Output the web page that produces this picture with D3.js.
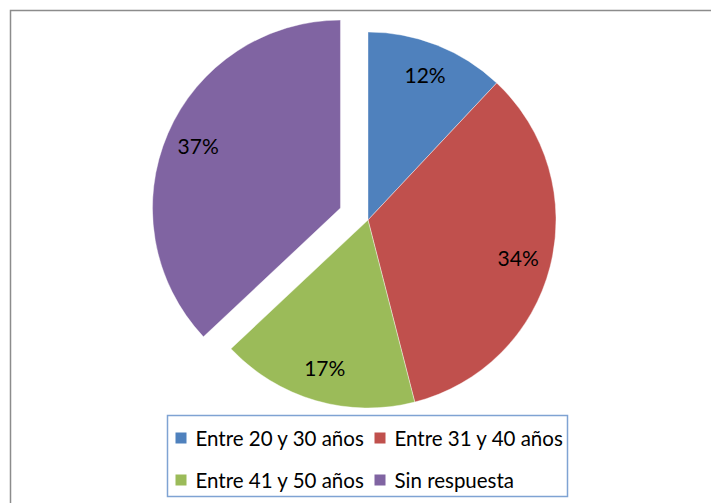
<!DOCTYPE html>
<html>
  <head>
    <meta charset="utf-8">
    <title>pie chart</title>
    <style>
      body { margin: 0; background-color: #fff; }
      text { font-family: Lato, "Liberation Sans", sans-serif; fill: #000; }
    </style>
  </head>
  <body>
<svg width="711" height="503"></svg>
<script src="https://d3js.org/d3.v7.min.js"></script>
<script>

var categories = ["Entre 20 y 30 años", "Entre 31 y 40 años", "Entre 41 y 50 años", "Sin respuesta"];
var values = [12, 34, 17, 37];
var labels = ["12%", "34%", "17%", "37%"];
var colors = ["#4f81bd", "#c0504d", "#9bbb59", "#8064a2"];
var exploded = [false, false, false, true];

var svg = d3.select("svg"),
    cx = 368, cy = 220,
    radius = 188,
    explode = 30;

// chart area frame (runs off the right and bottom of the picture)
svg.append("rect")
    .attr("x", 10.5)
    .attr("y", 10.5)
    .attr("width", 800)
    .attr("height", 600)
    .attr("fill", "#fff")
    .attr("stroke", "#8c8c8c")
    .attr("stroke-width", 1.5);

var data = categories.map(function(c, i) {
  return {name: c, value: values[i], label: labels[i], color: colors[i], out: exploded[i]};
});

var pie = d3.pie()
    .sort(null)
    .value(function(d) { return d.value; });

var arc = d3.arc().innerRadius(0).outerRadius(radius);
var labelArc = d3.arc().innerRadius(155).outerRadius(155);

function offset(d) {
  if (!d.data.out) return [0, 0];
  var a = (d.startAngle + d.endAngle) / 2;
  return [Math.sin(a) * explode, -Math.cos(a) * explode];
}

var g = svg.append("g").attr("transform", "translate(" + cx + "," + cy + ")");

var slices = g.selectAll(".slice")
    .data(pie(data))
  .enter().append("g")
    .attr("class", "slice")
    .attr("transform", function(d) { return "translate(" + offset(d) + ")"; });

slices.append("path")
    .attr("d", arc)
    .attr("fill", function(d) { return d.data.color; })
    .attr("stroke", "#fff")
    .attr("stroke-width", 0.4);

slices.append("text")
    .attr("transform", function(d) { return "translate(" + labelArc.centroid(d) + ")"; })
    .attr("text-anchor", "middle")
    .attr("dy", "0.35em")
    .style("font-size", "21px")
    .text(function(d) { return d.data.label; });

// legend
var legend = svg.append("g").attr("transform", "translate(167.5,415.5)");

legend.append("rect")
    .attr("width", 400)
    .attr("height", 81)
    .attr("fill", "#fff")
    .attr("stroke", "#7fa3d3")
    .attr("stroke-width", 1.5);

var item = legend.selectAll(".item")
    .data(data)
  .enter().append("g")
    .attr("class", "item")
    .attr("transform", function(d, i) {
      return "translate(" + (i % 2 ? 207 : 8) + "," + (i < 2 ? 23 : 65) + ")";
    });

item.append("rect")
    .attr("x", 0)
    .attr("y", -6)
    .attr("width", 11)
    .attr("height", 11)
    .attr("fill", function(d) { return d.color; });

item.append("text")
    .attr("x", 20)
    .attr("dy", "0.35em")
    .style("font-size", "20.5px")
    .text(function(d) { return d.name; });

</script>
  </body>
</html>
